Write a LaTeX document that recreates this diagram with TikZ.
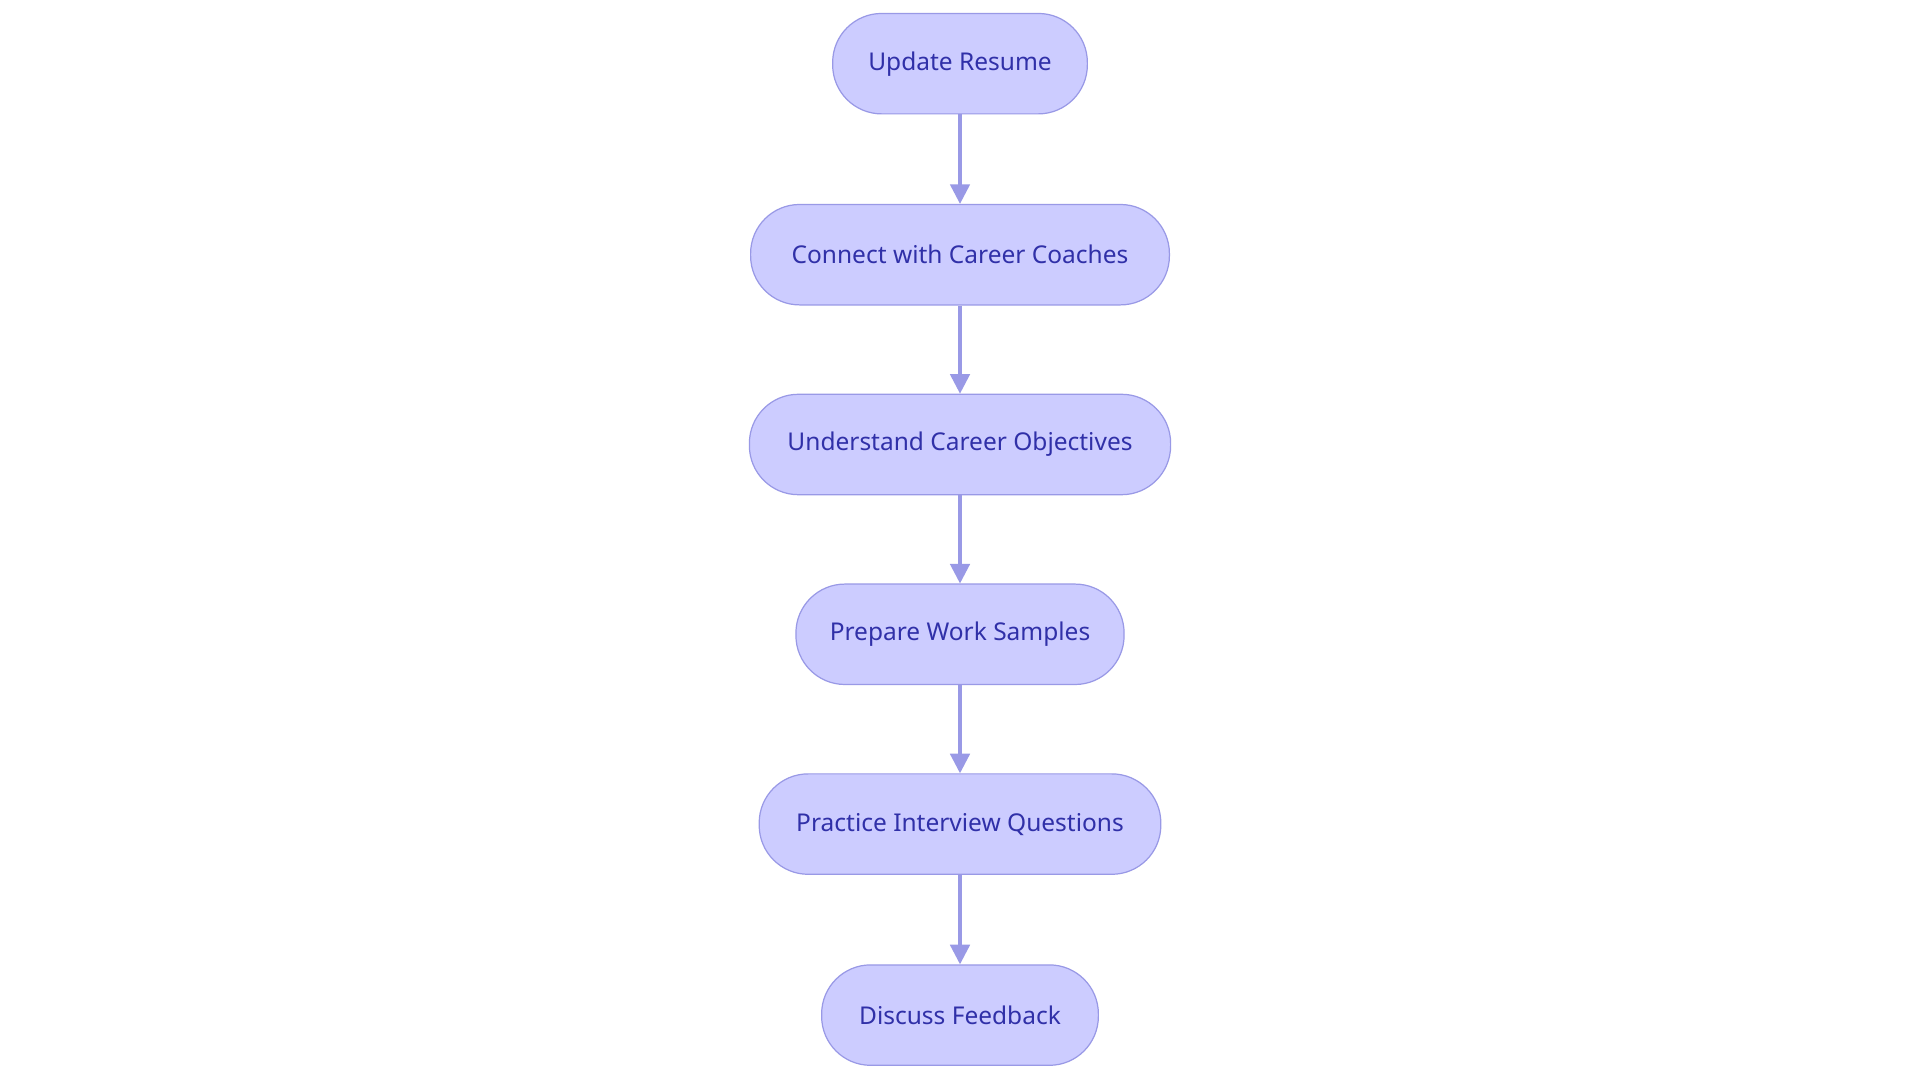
\documentclass[tikz,border=0pt]{standalone}
\usepackage{fontspec}
\setmainfont{Noto Sans}
\usetikzlibrary{arrows.meta}
\definecolor{nfill}{HTML}{CCCCFF}
\definecolor{nborder}{HTML}{9999E6}
\definecolor{ntext}{HTML}{3030A8}
\begin{document}
\begin{tikzpicture}[x=1pt,y=-1pt,
  stepbox/.style={draw=nborder,fill=nfill,line width=1pt,rounded corners=40pt,minimum height=82pt,inner sep=0pt,text=ntext,font=\fontsize{20}{24}\selectfont},
  arr/.style={draw=nborder,line width=2.5pt,-{Triangle[length=16pt,width=16pt]}}]
\useasboundingbox (0,0) rectangle (1568,882);
\fill[white] (0,0) rectangle (1568,882);
\node[stepbox,minimum width=208pt] (a) at (784,52) {Update Resume};
\node[stepbox,minimum width=342pt] (b) at (784,208) {Connect with Career Coaches};
\node[stepbox,minimum width=344pt] (c) at (784,363) {Understand Career Objectives};
\node[stepbox,minimum width=268pt] (d) at (784,518) {Prepare Work Samples};
\node[stepbox,minimum width=328pt] (e) at (784,673) {Practice Interview Questions};
\node[stepbox,minimum width=226pt] (f) at (784,829) {Discuss Feedback};
\draw[arr] (a) -- (b);
\draw[arr] (b) -- (c);
\draw[arr] (c) -- (d);
\draw[arr] (d) -- (e);
\draw[arr] (e) -- (f);
\end{tikzpicture}
\end{document}
